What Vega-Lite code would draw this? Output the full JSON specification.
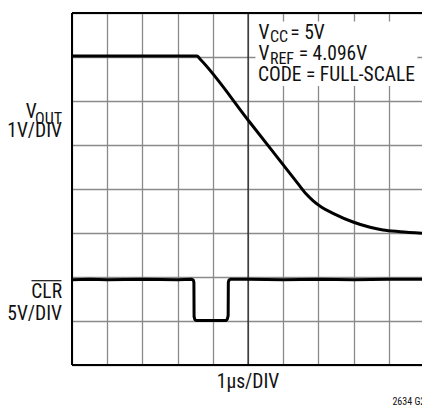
{
  "$schema": "https://vega.github.io/schema/vega-lite/v6.json",
  "width": 350,
  "height": 352,
  "autosize": {"type": "none"},
  "padding": {"left": 72, "top": 13, "right": 0, "bottom": 41},
  "config": {
    "view": {"stroke": null},
    "axis": {"grid": true, "labels": false, "ticks": false, "domain": false, "gridColor": "#8a8a8a", "gridWidth": 1.3, "gridOpacity": 1},
    "text": {"font": "Roboto Condensed, Liberation Sans", "color": "#111"}
  },
  "datasets": {
    "vout": [
      {"i": 0, "x": 0, "y": 7.023},
      {"i": 1, "x": 3.55, "y": 7.023},
      {"i": 2, "x": 3.635, "y": 6.955},
      {"i": 3, "x": 5.055, "y": 5.511},
      {"i": 4, "x": 6.4, "y": 4.14},
      {"i": 5, "x": 6.646, "y": 3.89},
      {"i": 6, "x": 6.85, "y": 3.73},
      {"i": 7, "x": 7.1, "y": 3.58},
      {"i": 8, "x": 7.413, "y": 3.448},
      {"i": 9, "x": 7.981, "y": 3.25},
      {"i": 10, "x": 8.464, "y": 3.13},
      {"i": 11, "x": 8.833, "y": 3.068},
      {"i": 12, "x": 9.316, "y": 3.03},
      {"i": 13, "x": 9.94, "y": 2.995}
    ],
    "clr": [
      {"i": 0, "x": 0, "y": 1.94},
      {"i": 1, "x": 0.5, "y": 1.95},
      {"i": 2, "x": 1, "y": 1.94},
      {"i": 3, "x": 2, "y": 1.95},
      {"i": 4, "x": 3, "y": 1.94},
      {"i": 5, "x": 3.4, "y": 1.95},
      {"i": 6, "x": 3.445, "y": 1.93},
      {"i": 7, "x": 3.462, "y": 1.88},
      {"i": 8, "x": 3.467, "y": 1.1},
      {"i": 9, "x": 3.49, "y": 1.03},
      {"i": 10, "x": 3.53, "y": 1.011},
      {"i": 11, "x": 4.37, "y": 1.011},
      {"i": 12, "x": 4.41, "y": 1.04},
      {"i": 13, "x": 4.435, "y": 1.12},
      {"i": 14, "x": 4.44, "y": 1.88},
      {"i": 15, "x": 4.46, "y": 1.93},
      {"i": 16, "x": 4.5, "y": 1.95},
      {"i": 17, "x": 5, "y": 1.95},
      {"i": 18, "x": 6, "y": 1.94},
      {"i": 19, "x": 7, "y": 1.95},
      {"i": 20, "x": 8, "y": 1.94},
      {"i": 21, "x": 9, "y": 1.95},
      {"i": 22, "x": 9.94, "y": 1.95}
    ],
    "one": [{}]
  },
  "layer": [
    {
      "data": {"name": "one"},
      "mark": {"type": "rule", "color": "black", "strokeWidth": 2},
      "encoding": {
        "x": {"datum": 0, "type": "quantitative", "scale": {"domain": [0, 9.94], "nice": false, "zero": false}, "axis": {"values": [0, 1, 2, 3, 4, 5, 6, 7, 8, 9], "title": null}},
        "y": {"datum": 0, "type": "quantitative", "scale": {"domain": [0, 8], "nice": false, "zero": false}, "axis": {"values": [0, 1, 2, 3, 4, 5, 6, 7, 8], "title": null}},
        "y2": {"datum": 8}
      }
    },
    {
      "data": {"name": "one"},
      "mark": {"type": "rule", "color": "black", "strokeWidth": 1},
      "encoding": {
        "x": {"datum": 5, "type": "quantitative", "axis": {"values": [0, 1, 2, 3, 4, 5, 6, 7, 8, 9], "title": null}},
        "y": {"datum": 0, "type": "quantitative", "axis": {"values": [0, 1, 2, 3, 4, 5, 6, 7, 8], "title": null}},
        "y2": {"datum": 8}
      }
    },
    {
      "data": {"name": "one"},
      "mark": {"type": "rule", "color": "black", "strokeWidth": 2},
      "encoding": {
        "x": {"datum": 0, "type": "quantitative", "axis": {"values": [0, 1, 2, 3, 4, 5, 6, 7, 8, 9], "title": null}},
        "x2": {"datum": 9.94},
        "y": {"datum": 0, "type": "quantitative", "axis": {"values": [0, 1, 2, 3, 4, 5, 6, 7, 8], "title": null}}
      }
    },
    {
      "data": {"name": "one"},
      "mark": {"type": "rule", "color": "black", "strokeWidth": 2},
      "encoding": {
        "x": {"datum": 0, "type": "quantitative", "axis": {"values": [0, 1, 2, 3, 4, 5, 6, 7, 8, 9], "title": null}},
        "x2": {"datum": 9.94},
        "y": {"datum": 8, "type": "quantitative", "axis": {"values": [0, 1, 2, 3, 4, 5, 6, 7, 8], "title": null}}
      }
    },
    {
      "data": {"name": "one"},
      "mark": {"type": "rect", "color": "white"},
      "encoding": {
        "x": {"datum": 5.21, "type": "quantitative", "axis": {"values": [0, 1, 2, 3, 4, 5, 6, 7, 8, 9], "title": null}},
        "x2": {"datum": 9.81},
        "y": {"datum": 7.807, "type": "quantitative", "axis": {"values": [0, 1, 2, 3, 4, 5, 6, 7, 8], "title": null}},
        "y2": {"datum": 6.34}
      }
    },
    {
      "data": {"name": "vout"},
      "mark": {"type": "line", "color": "black", "strokeWidth": 3, "clip": true, "strokeJoin": "round", "interpolate": "monotone"},
      "encoding": {
        "x": {"field": "x", "type": "quantitative", "axis": {"values": [0, 1, 2, 3, 4, 5, 6, 7, 8, 9], "title": null}},
        "y": {"field": "y", "type": "quantitative", "axis": {"values": [0, 1, 2, 3, 4, 5, 6, 7, 8], "title": null}},
        "order": {"field": "i", "type": "quantitative"}
      }
    },
    {
      "data": {"name": "clr"},
      "mark": {"type": "line", "color": "black", "strokeWidth": 3, "clip": true, "strokeJoin": "round"},
      "encoding": {
        "x": {"field": "x", "type": "quantitative", "axis": {"values": [0, 1, 2, 3, 4, 5, 6, 7, 8, 9], "title": null}},
        "y": {"field": "y", "type": "quantitative", "axis": {"values": [0, 1, 2, 3, 4, 5, 6, 7, 8], "title": null}},
        "order": {"field": "i", "type": "quantitative"}
      }
    },
    {
      "data": {"values": [{"t": "V"}]},
      "mark": {"type": "text", "align": "left", "baseline": "alphabetic", "fontSize": 19.5},
      "encoding": {"x": {"datum": 5.3, "type": "quantitative", "axis": {"values": [0, 1, 2, 3, 4, 5, 6, 7, 8, 9], "title": null}}, "y": {"datum": 7.409, "type": "quantitative", "axis": {"values": [0, 1, 2, 3, 4, 5, 6, 7, 8], "title": null}}, "text": {"field": "t"}}
    },
    {
      "data": {"values": [{"t": "CC"}]},
      "mark": {"type": "text", "align": "left", "baseline": "alphabetic", "fontSize": 16},
      "encoding": {"x": {"datum": 5.62, "type": "quantitative", "axis": {"values": [0, 1, 2, 3, 4, 5, 6, 7, 8, 9], "title": null}}, "y": {"datum": 7.341, "type": "quantitative", "axis": {"values": [0, 1, 2, 3, 4, 5, 6, 7, 8], "title": null}}, "text": {"field": "t"}}
    },
    {
      "data": {"values": [{"t": "= 5V"}]},
      "mark": {"type": "text", "align": "left", "baseline": "alphabetic", "fontSize": 19.5},
      "encoding": {"x": {"datum": 6.2, "type": "quantitative", "axis": {"values": [0, 1, 2, 3, 4, 5, 6, 7, 8, 9], "title": null}}, "y": {"datum": 7.409, "type": "quantitative", "axis": {"values": [0, 1, 2, 3, 4, 5, 6, 7, 8], "title": null}}, "text": {"field": "t"}}
    },
    {
      "data": {"values": [{"t": "V"}]},
      "mark": {"type": "text", "align": "left", "baseline": "alphabetic", "fontSize": 19.5},
      "encoding": {"x": {"datum": 5.3, "type": "quantitative", "axis": {"values": [0, 1, 2, 3, 4, 5, 6, 7, 8, 9], "title": null}}, "y": {"datum": 6.925, "type": "quantitative", "axis": {"values": [0, 1, 2, 3, 4, 5, 6, 7, 8], "title": null}}, "text": {"field": "t"}}
    },
    {
      "data": {"values": [{"t": "REF"}]},
      "mark": {"type": "text", "align": "left", "baseline": "alphabetic", "fontSize": 16},
      "encoding": {"x": {"datum": 5.62, "type": "quantitative", "axis": {"values": [0, 1, 2, 3, 4, 5, 6, 7, 8, 9], "title": null}}, "y": {"datum": 6.848, "type": "quantitative", "axis": {"values": [0, 1, 2, 3, 4, 5, 6, 7, 8], "title": null}}, "text": {"field": "t"}}
    },
    {
      "data": {"values": [{"t": "= 4.096V"}]},
      "mark": {"type": "text", "align": "left", "baseline": "alphabetic", "fontSize": 19.5},
      "encoding": {"x": {"datum": 6.44, "type": "quantitative", "axis": {"values": [0, 1, 2, 3, 4, 5, 6, 7, 8, 9], "title": null}}, "y": {"datum": 6.925, "type": "quantitative", "axis": {"values": [0, 1, 2, 3, 4, 5, 6, 7, 8], "title": null}}, "text": {"field": "t"}}
    },
    {
      "data": {"values": [{"t": "CODE = FULL-SCALE"}]},
      "mark": {"type": "text", "align": "left", "baseline": "alphabetic", "fontSize": 19.5},
      "encoding": {"x": {"datum": 5.28, "type": "quantitative", "axis": {"values": [0, 1, 2, 3, 4, 5, 6, 7, 8, 9], "title": null}}, "y": {"datum": 6.448, "type": "quantitative", "axis": {"values": [0, 1, 2, 3, 4, 5, 6, 7, 8], "title": null}}, "text": {"field": "t"}}
    },
    {
      "data": {"values": [{"t": "V"}]},
      "mark": {"type": "text", "align": "right", "baseline": "alphabetic", "fontSize": 19.5},
      "encoding": {"x": {"datum": -1.0, "type": "quantitative", "axis": {"values": [0, 1, 2, 3, 4, 5, 6, 7, 8, 9], "title": null}}, "y": {"datum": 5.607, "type": "quantitative", "axis": {"values": [0, 1, 2, 3, 4, 5, 6, 7, 8], "title": null}}, "text": {"field": "t"}}
    },
    {
      "data": {"values": [{"t": "OUT"}]},
      "mark": {"type": "text", "align": "right", "baseline": "alphabetic", "fontSize": 16},
      "encoding": {"x": {"datum": -0.284, "type": "quantitative", "axis": {"values": [0, 1, 2, 3, 4, 5, 6, 7, 8, 9], "title": null}}, "y": {"datum": 5.477, "type": "quantitative", "axis": {"values": [0, 1, 2, 3, 4, 5, 6, 7, 8], "title": null}}, "text": {"field": "t"}}
    },
    {
      "data": {"values": [{"t": "1V/DIV"}]},
      "mark": {"type": "text", "align": "right", "baseline": "alphabetic", "fontSize": 19.5},
      "encoding": {"x": {"datum": -0.284, "type": "quantitative", "axis": {"values": [0, 1, 2, 3, 4, 5, 6, 7, 8, 9], "title": null}}, "y": {"datum": 5.189, "type": "quantitative", "axis": {"values": [0, 1, 2, 3, 4, 5, 6, 7, 8], "title": null}}, "text": {"field": "t"}}
    },
    {
      "data": {"values": [{"t": "CLR"}]},
      "mark": {"type": "text", "align": "right", "baseline": "alphabetic", "fontSize": 19.5},
      "encoding": {"x": {"datum": -0.284, "type": "quantitative", "axis": {"values": [0, 1, 2, 3, 4, 5, 6, 7, 8, 9], "title": null}}, "y": {"datum": 1.516, "type": "quantitative", "axis": {"values": [0, 1, 2, 3, 4, 5, 6, 7, 8], "title": null}}, "text": {"field": "t"}}
    },
    {
      "data": {"name": "one"},
      "mark": {"type": "rule", "color": "#111", "strokeWidth": 1.2},
      "encoding": {
        "x": {"datum": -1.15, "type": "quantitative", "axis": {"values": [0, 1, 2, 3, 4, 5, 6, 7, 8, 9], "title": null}},
        "x2": {"datum": -0.3},
        "y": {"datum": 1.916, "type": "quantitative", "axis": {"values": [0, 1, 2, 3, 4, 5, 6, 7, 8], "title": null}}
      }
    },
    {
      "data": {"values": [{"t": "5V/DIV"}]},
      "mark": {"type": "text", "align": "right", "baseline": "alphabetic", "fontSize": 19.5},
      "encoding": {"x": {"datum": -0.284, "type": "quantitative", "axis": {"values": [0, 1, 2, 3, 4, 5, 6, 7, 8, 9], "title": null}}, "y": {"datum": 1.023, "type": "quantitative", "axis": {"values": [0, 1, 2, 3, 4, 5, 6, 7, 8], "title": null}}, "text": {"field": "t"}}
    },
    {
      "data": {"values": [{"t": "1μs/DIV"}]},
      "mark": {"type": "text", "align": "center", "baseline": "alphabetic", "fontSize": 19.5},
      "encoding": {"x": {"datum": 5.0, "type": "quantitative", "axis": {"values": [0, 1, 2, 3, 4, 5, 6, 7, 8, 9], "title": null}}, "y": {"datum": -0.53, "type": "quantitative", "axis": {"values": [0, 1, 2, 3, 4, 5, 6, 7, 8], "title": null}}, "text": {"field": "t"}}
    },
    {
      "data": {"values": [{"t": "2634 G29"}]},
      "mark": {"type": "text", "align": "left", "baseline": "alphabetic", "fontSize": 10},
      "encoding": {"x": {"datum": 9.1, "type": "quantitative", "axis": {"values": [0, 1, 2, 3, 4, 5, 6, 7, 8, 9], "title": null}}, "y": {"datum": -0.909, "type": "quantitative", "axis": {"values": [0, 1, 2, 3, 4, 5, 6, 7, 8], "title": null}}, "text": {"field": "t"}}
    }
  ]
}
